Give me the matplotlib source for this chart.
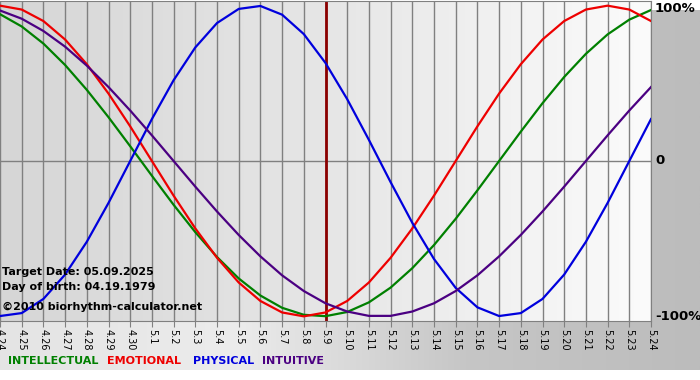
import matplotlib.pyplot as plt
import numpy as np

# day labels, 4.24 .. 5.24 (target date 5.9 in the middle)
dates = ["4.24", "4.25", "4.26", "4.27", "4.28", "4.29", "4.30",
         "5.1", "5.2", "5.3", "5.4", "5.5", "5.6", "5.7", "5.8", "5.9",
         "5.10", "5.11", "5.12", "5.13", "5.14", "5.15", "5.16", "5.17",
         "5.18", "5.19", "5.20", "5.21", "5.22", "5.23", "5.24"]
target = "5.9"

# values, one per day (-1 .. 1)
intellectual = [0.945, 0.866, 0.756, 0.618, 0.458, 0.282, 0.095, -0.095,
                -0.282, -0.458, -0.618, -0.756, -0.866, -0.945, -0.990, -0.999,
                -0.972, -0.910, -0.815, -0.690, -0.541, -0.372, -0.189, 0.0,
                0.189, 0.372, 0.541, 0.690, 0.815, 0.910, 0.972]
emotional = [1.0, 0.975, 0.901, 0.782, 0.623, 0.434, 0.223, 0.0,
             -0.223, -0.434, -0.623, -0.782, -0.901, -0.975, -1.0, -0.975,
             -0.901, -0.782, -0.623, -0.434, -0.223, 0.0, 0.223, 0.434,
             0.623, 0.782, 0.901, 0.975, 1.0, 0.975, 0.901]
physical = [-0.998, -0.979, -0.888, -0.731, -0.520, -0.270, 0.0, 0.270,
            0.520, 0.731, 0.888, 0.979, 0.998, 0.942, 0.817, 0.631,
            0.398, 0.136, -0.136, -0.398, -0.631, -0.817, -0.942, -0.998,
            -0.979, -0.888, -0.731, -0.520, -0.270, 0.0, 0.270]
intuitive = [0.969, 0.916, 0.837, 0.736, 0.614, 0.476, 0.325, 0.165,
             0.0, -0.165, -0.325, -0.476, -0.614, -0.736, -0.837, -0.916,
             -0.969, -0.997, -0.997, -0.969, -0.916, -0.837, -0.736, -0.614,
             -0.476, -0.325, -0.165, 0.0, 0.165, 0.325, 0.476]

series = [("INTELLECTUAL", intellectual, "#008000"),
          ("EMOTIONAL", emotional, "#ee0000"),
          ("PHYSICAL", physical, "#0000dd"),
          ("INTUITIVE", intuitive, "#4b0082")]

W, H = 700, 380
fig = plt.figure(figsize=(W / 100, H / 100), dpi=100, facecolor="white")
cmap = plt.matplotlib.colors.LinearSegmentedColormap

# gray frame behind everything
bg = fig.add_axes([0, 10 / H, 1, 360 / H], zorder=-5)
grad = np.linspace(0, 1, 256)[None, :]
bg.imshow(grad, cmap=cmap.from_list("frame", ["#e4e4e4", "#ececec", "#c6c6c6", "#bcbcbc"]),
          aspect="auto", extent=[0, 1, 0, 1])
bg.set_axis_off()

ax = fig.add_axes([0, (H - 321) / H, 651 / W, 320 / H])
x = np.arange(len(dates))
ax.set_xlim(0, len(dates) - 1)
ax.set_ylim(-1.03, 1.03)

# plot area gradient
ax.imshow(grad, cmap=cmap.from_list("plot", ["#d6d6d6", "#e6e6e6", "#fbfbfb"]),
          aspect="auto", extent=[0, len(dates) - 1, -1.03, 1.03], zorder=0)

for xi in x:
    ax.axvline(xi, color="#808080", lw=1, zorder=1)
ax.axhline(0, color="#808080", lw=1, zorder=1)
ax.axvline(dates.index(target), color="#8b0000", lw=2, zorder=2)

for name, vals, col in series:
    ax.plot(x, vals, color=col, lw=1.6, zorder=3, solid_joinstyle="round")

for s in ax.spines.values():
    s.set_color("#808080")
ax.spines["left"].set_visible(False)
ax.set_yticks([])
ax.set_xticks(x)
ax.set_xticklabels(dates, rotation=270, fontsize=7)
ax.tick_params(axis="x", length=4, color="#808080", pad=2)
ax.get_xticklabels()[0].set_x(0.12)

# right side percentage labels
for yv, lab in [(0.98, "100%"), (0, "0"), (-1, "-100%")]:
    ax.annotate(lab, (1, yv), xycoords=("axes fraction", "data"),
                xytext=(4, 0), textcoords="offset pixels",
                va="center", ha="left", fontsize=9.5, fontweight="bold")

# info text over the plot
fig.text(2 / W, 1 - 272 / H, "Target Date: 05.09.2025", fontsize=8,
         fontweight="bold", va="center")
fig.text(2 / W, 1 - 287 / H, "Day of birth: 04.19.1979", fontsize=8,
         fontweight="bold", va="center")
fig.text(2 / W, 1 - 307 / H, "\u00a92010 biorhythm-calculator.net",
         fontsize=8, fontweight="bold", va="center")

# legend row
xpos = [8, 107, 193, 262]
for (name, vals, col), xp in zip(series, xpos):
    fig.text(xp / W, 1 - 361 / H, name, color=col, fontsize=8,
             fontweight="bold", va="center")

fig.savefig("out.png", dpi=100, facecolor="white")
